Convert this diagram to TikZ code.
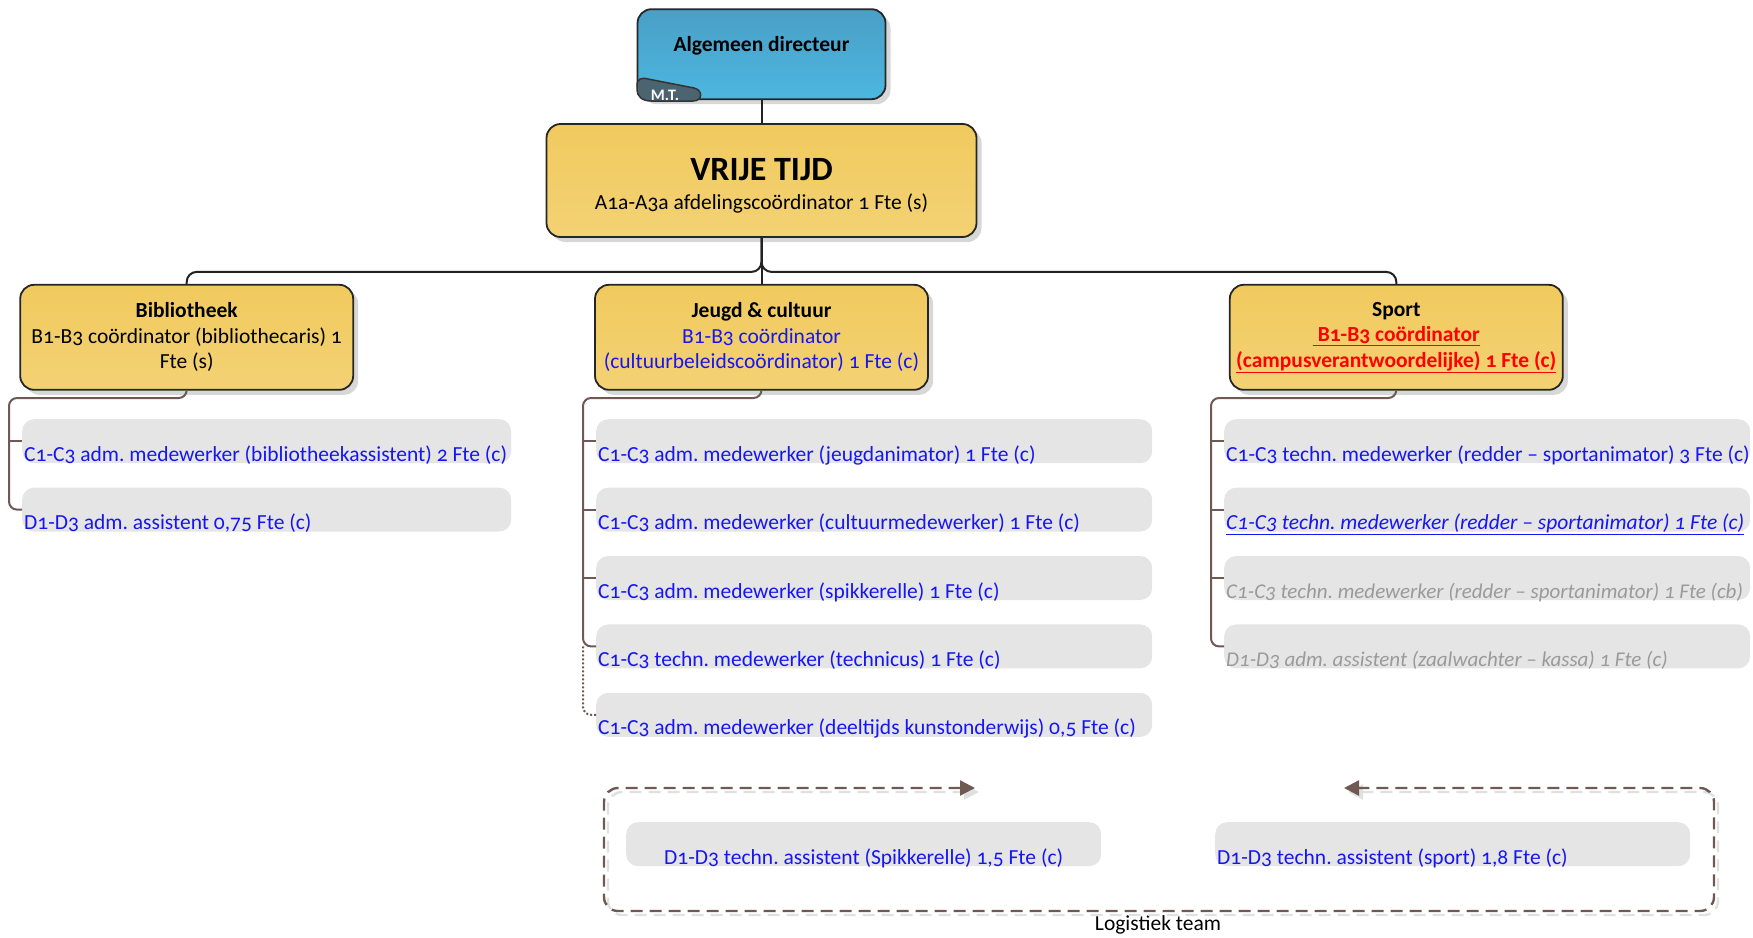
\documentclass[tikz,border=0pt]{standalone}
\usepackage{fontspec}
\setmainfont{Carlito}[Numbers=OldStyle]
\usetikzlibrary{positioning,shapes,arrows.meta,calc,shadows}
\frenchspacing

\definecolor{deptyellow}{HTML}{F1CA5E}
\definecolor{deptlight}{HTML}{F3D274}
\definecolor{dirblue}{HTML}{4A9FC6}
\definecolor{dirlight}{HTML}{4CB7E0}
\definecolor{mtslate}{HTML}{4C6370}
\definecolor{itemgray}{HTML}{E5E5E5}
\definecolor{posblue}{HTML}{1616F2}
\definecolor{vacantgray}{HTML}{9A9A9A}
\definecolor{linkbrown}{HTML}{6E5A52}
\definecolor{busblack}{HTML}{222222}
\definecolor{redline}{HTML}{FF0000}

\begin{document}
\begin{tikzpicture}[x=1pt, y=-1pt, node distance=24pt]
\tikzset{
    dept/.style={rectangle, rounded corners=14pt, draw=black!85, line width=1.8pt, top color=deptyellow, bottom color=deptlight, align=center, minimum width=333pt, minimum height=105pt, font=\fontsize{21.5}{25.5}\selectfont, drop shadow={shadow xshift=5pt, shadow yshift=-5pt, fill=black!35, opacity=0.45}},
    headbox/.style={dept, minimum width=430pt, minimum height=113pt, font=\fontsize{21.5}{29}\selectfont},
    dirbox/.style={rectangle, rounded corners=14pt, draw=black!85, line width=1.8pt, top color=dirblue, bottom color=dirlight, minimum width=248pt, minimum height=90pt, font=\fontsize{21.5}{26}\selectfont\bfseries, text height=13pt, text depth=19pt, drop shadow={shadow xshift=5pt, shadow yshift=-5pt, fill=black!35, opacity=0.45}},
    mttab/.style={fill=mtslate, draw=black!80, line width=1.5pt},
    mtlabel/.style={text=white, font=\fontsize{16}{18}\selectfont\bfseries, inner sep=0pt},
    item/.style={rectangle, rounded corners=12pt, fill=itemgray, text width=#1, align=flush left, minimum height=44pt, inner xsep=2pt, inner ysep=0pt, text height=42pt, text depth=2pt, text=posblue, font=\fontsize{21.5}{25}\selectfont},
    vacant/.style={text=vacantgray, font=\fontsize{21}{25}\selectfont\itshape},
    bus/.style={draw=busblack, line width=2pt, rounded corners=10pt},
    branch/.style={draw=linkbrown, line width=2pt, rounded corners=8pt},
    logi/.style={draw=linkbrown, line width=2.4pt, dash pattern=on 12pt off 7pt, rounded corners=14pt, arrows={Triangle[length=15pt,width=15pt]-Triangle[length=15pt,width=15pt]}},
    teamlabel/.style={font=\fontsize{21.5}{25}\selectfont, inner sep=0pt}
}
\useasboundingbox (0,0) rectangle (1753,937);

% top of the tree
\node[headbox] (vt) at (761.5,180.5) {\rule{0pt}{33pt}{\fontsize{34}{36}\selectfont\bfseries VRIJE TIJD}\\ A1a-A3a afdelingscoördinator 1 Fte (s)};
\node[dirbox, above=23pt of vt] (dir) {Algemeen directeur};
\draw[mttab] (637,86) .. controls (637,79) and (641,77) .. (648,79) -- (694,88) .. controls (703,90) and (703,101) .. (693,101) -- (651,101) .. controls (642,101) and (637,96) .. (637,90) -- cycle;
\node[mtlabel] (mt) at (665,95) {M.T.};

% afdelingen
\node[dept, below=46pt of vt] (jc) {{\bfseries Jeugd \& cultuur}\\ \textcolor{posblue}{B1-B3 coördinator}\\ \textcolor{posblue}{(cultuurbeleidscoördinator) 1 Fte (c)}};
\node[dept, left=240pt of jc] (bib) {{\bfseries Bibliotheek}\\ B1-B3 coördinator (bibliothecaris) 1\\ Fte (s)};
\node[dept, right=300pt of jc] (sp) {{\bfseries Sport}\\ \textcolor{redline}{\bfseries\underline{\ B1-B3 coördinator}}\\ \textcolor{redline}{\bfseries\underline{(campusverantwoordelijke) 1 Fte (c)}}};

% medewerkers
\node[item=485pt, anchor=north west] (bib1) at (22,419) {C1-C3 adm. medewerker (bibliotheekassistent) 2 Fte (c)};
\node[item=485pt, below=of bib1] (bib2) {D1-D3 adm. assistent 0,75 Fte (c)};

\node[item=552pt, anchor=north west] (jc1) at (596,419) {C1-C3 adm. medewerker (jeugdanimator) 1 Fte (c)};
\node[item=552pt, below=of jc1] (jc2) {C1-C3 adm. medewerker (cultuurmedewerker) 1 Fte (c)};
\node[item=552pt, below=of jc2] (jc3) {C1-C3 adm. medewerker (spikkerelle) 1 Fte (c)};
\node[item=552pt, below=of jc3] (jc4) {C1-C3 techn. medewerker (technicus) 1 Fte (c)};
\node[item=552pt, below=of jc4] (jc5) {C1-C3 adm. medewerker (deeltijds kunstonderwijs) 0,5 Fte (c)};

\node[item=522pt, anchor=north west] (sp1) at (1224,419) {\mbox{C1-C3 techn. medewerker (redder – sportanimator) 3 Fte (c)}};
\node[item=522pt, below=of sp1] (sp2) {\mbox{\itshape\underline{C1-C3 techn. medewerker (redder – sportanimator) 1 Fte (c)}}};
\node[item=522pt, vacant, below=of sp2] (sp3) {\mbox{C1-C3 techn. medewerker (redder – sportanimator) 1 Fte (cb)}};
\node[item=522pt, vacant, below=of sp3] (sp4) {\mbox{D1-D3 adm. assistent (zaalwachter – kassa) 1 Fte (c)}};

% logistiek team
\node[item=471pt, align=flush center, anchor=north west] (spk) at (626,822) {D1-D3 techn. assistent (Spikkerelle) 1,5 Fte (c)};
\node[item=471pt, anchor=north west] (spt) at (1215,822) {D1-D3 techn. assistent (sport) 1,8 Fte (c)};
\node[teamlabel] (team) at (1158,925) {Logistiek team};

% lijnen
\coordinate (busL) at ($(bib.north)+(0,-12)$);
\coordinate (busR) at ($(sp.north)+(0,-12)$);
\draw[bus] (dir.south) -- (vt.north);
\draw[bus] (vt.south) -- (jc.north);
\draw[bus] (vt.south) |- (busL) -- (bib.north);
\draw[bus] (vt.south) |- (busR) -- (sp.north);

\coordinate (bibtr) at (9,398);
\draw[branch] (bib.south) |- (bibtr) |- (bib2.west);
\draw[branch] (bibtr |- bib1.west) -- (bib1.west);

\coordinate (jctr) at (583,398);
\draw[branch] (jc.south) |- (jctr) |- (jc4.west);
\foreach \k in {1,2,3} \draw[branch] (jctr |- jc\k.west) -- (jc\k.west);
\draw[branch, dotted] (jctr |- jc4.west) |- (jc5.west);

\coordinate (sptr) at (1211,398);
\draw[branch] (sp.south) |- (sptr) |- (sp4.west);
\foreach \k in {1,2,3} \draw[branch] (sptr |- sp\k.west) -- (sp\k.west);

\coordinate (logiL) at (975,788);
\coordinate (logiTL) at (604,788);
\coordinate (logiBR) at (1714,911);
\coordinate (logiR) at (1344,788);
\begin{scope}[transform canvas={xshift=4pt, yshift=-4pt}]
\draw[logi, draw=black!12] (logiL) -- (logiTL) |- (logiBR) |- (logiR);
\end{scope}
\draw[logi] (logiL) -- (logiTL) |- (logiBR) |- (logiR);
\end{tikzpicture}
\end{document}
